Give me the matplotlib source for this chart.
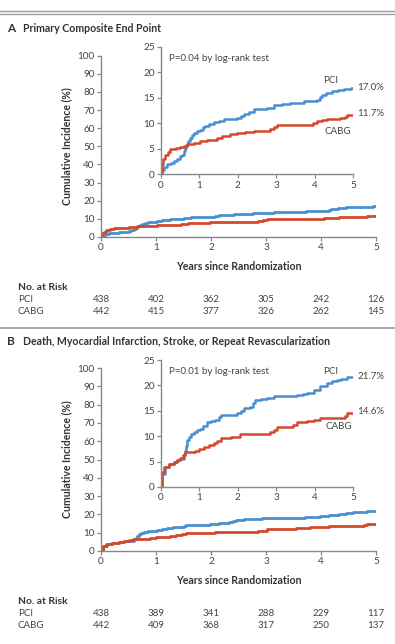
import numpy as np
import matplotlib.pyplot as plt
import matplotlib.transforms as mtransforms

# Kaplan-Meier style curves (years, %)
a_pci_t = [0, 0.03, 0.07, 0.15, 0.25, 0.33, 0.42, 0.5, 0.55, 0.6, 0.63, 0.66, 0.7,
           0.75, 0.8, 0.85, 0.93, 1.02, 1.1, 1.15, 1.25, 1.37, 1.5, 1.63, 1.98, 2.08,
           2.15, 2.3, 2.41, 2.76, 2.93, 3.15, 3.37, 3.72, 4.06, 4.15, 4.19, 4.3,
           4.45, 4.6, 4.76, 4.95]
a_pci_y = [0, 0.8, 1.5, 2.0, 2.3, 2.6, 3.0, 3.5, 3.8, 4.5, 5.1, 5.8, 6.5,
           7.2, 7.7, 8.1, 8.4, 8.7, 9.2, 9.5, 9.8, 10.2, 10.5, 10.8, 11.0, 11.5,
           11.9, 12.3, 12.7, 13.0, 13.5, 13.7, 14.0, 14.4, 14.6, 15.1, 15.6, 16.0,
           16.3, 16.5, 16.7, 17.0]
a_cabg_t = [0, 0.02, 0.05, 0.1, 0.17, 0.24, 0.38, 0.5, 0.6, 0.68, 0.85, 1.02, 1.2,
            1.46, 1.59, 1.8, 1.98, 2.2, 2.41, 2.85, 2.95, 3.02, 3.8, 3.95, 4.06, 4.2,
            4.32, 4.67, 4.78, 4.84]
a_cabg_y = [0, 2.0, 3.0, 3.8, 4.4, 4.9, 5.1, 5.3, 5.6, 5.9, 6.2, 6.5, 6.7,
            7.2, 7.6, 7.8, 8.0, 8.2, 8.4, 8.9, 9.3, 9.7, 9.7, 10.1, 10.4, 10.6,
            10.8, 11.0, 11.3, 11.7]

b_pci_t = [0, 0.03, 0.11, 0.2, 0.33, 0.42, 0.5, 0.6, 0.63, 0.66, 0.69, 0.72, 0.78,
           0.85, 0.95, 1.02, 1.1, 1.2, 1.3, 1.41, 1.5, 1.55, 1.98, 2.08, 2.15, 2.33,
           2.4, 2.46, 2.6, 2.76, 2.93, 3.54, 3.7, 3.8, 3.98, 4.15, 4.32, 4.45, 4.58,
           4.7, 4.84]
b_pci_y = [0, 2.5, 4.0, 4.5, 5.0, 5.3, 5.6, 6.3, 7.0, 8.0, 9.2, 9.9, 10.5,
           10.9, 11.2, 11.5, 12.1, 12.7, 12.9, 13.2, 13.8, 14.2, 14.5, 15.0, 15.5, 15.8,
           16.5, 17.1, 17.3, 17.6, 18.0, 18.1, 18.4, 18.6, 19.1, 19.9, 20.4, 20.8, 21.1,
           21.3, 21.7]
b_cabg_t = [0, 0.03, 0.09, 0.2, 0.33, 0.42, 0.5, 0.58, 0.63, 0.89, 1.0, 1.11, 1.25,
            1.37, 1.47, 1.55, 1.81, 2.07, 2.76, 2.85, 2.93, 3.02, 3.45, 3.54, 3.8,
            3.98, 4.15, 4.67, 4.78, 4.84, 4.95]
b_cabg_y = [0, 3.0, 4.0, 4.5, 5.0, 5.4, 5.8, 6.3, 6.8, 7.0, 7.5, 7.9, 8.3,
            8.6, 9.1, 9.6, 9.9, 10.4, 10.4, 10.8, 11.2, 11.9, 12.2, 12.7, 12.9,
            13.2, 13.6, 13.6, 14.0, 14.5, 14.6]

risk_years = [0, 1, 2, 3, 4, 5]
a_risk_pci = [438, 402, 362, 305, 242, 126]
a_risk_cabg = [442, 415, 377, 326, 262, 145]
b_risk_pci = [438, 389, 341, 288, 229, 117]
b_risk_cabg = [442, 409, 368, 317, 250, 137]

BLUE = "#4a8fcf"
RED = "#d4492c"
GRID = "#888888"
TXT = "#333333"

plt.rcParams["font.family"] = ["Lato", "DejaVu Sans"]

W, H = 395, 644
fig = plt.figure(figsize=(W / 100, H / 100), dpi=100)


def rect(l, r, top, bot):
    return [l / W, 1 - bot / H, (r - l) / W, (bot - top) / H]


def style(ax, ymax, ystep):
    for s in ("top", "right"):
        ax.spines[s].set_visible(False)
    for s in ("left", "bottom"):
        ax.spines[s].set_color(GRID)
        ax.spines[s].set_linewidth(1.0)
    ax.set_xlim(0, 5)
    ax.set_ylim(0, ymax)
    ax.set_xticks(range(6))
    ax.set_yticks(range(0, ymax + 1, ystep))
    ax.tick_params(length=3, width=0.9, color=GRID, labelsize=7.2,
                   labelcolor="#444444", pad=1.5)
    ax.patch.set_alpha(0)


def panel(letter, title, ytop, main_top, main_bot, ins_top, ins_bot,
          pci_t, pci_y, cabg_t, cabg_y, pval, pci_lab, cabg_lab, pci_pos, cabg_pos,
          risk_pci, risk_cabg, risk_y):
    fig.text(7 / W, 1 - ytop / H, letter, fontsize=8.5, fontweight="bold",
             color=TXT, va="center")
    fig.text(23 / W, 1 - ytop / H, title, fontsize=7.6, fontweight="bold",
             color=TXT, va="center")

    ax = fig.add_axes(rect(101, 376, main_top, main_bot))
    style(ax, 100, 10)
    ax.step(pci_t + [5], pci_y + [pci_y[-1]], where="post", color=BLUE, lw=2.0)
    ax.step(cabg_t + [5], cabg_y + [cabg_y[-1]], where="post", color=RED, lw=2.0)
    ax.set_xlabel("Years since Randomization", fontsize=7.6, fontweight="bold",
                  color=TXT, labelpad=6)
    ax.set_ylabel("Cumulative Incidence (%)", fontsize=7.6, fontweight="bold",
                  color=TXT, labelpad=4)

    ins = fig.add_axes(rect(161, 353, ins_top, ins_bot))
    style(ins, 25, 5)
    ins.step(pci_t + [5], pci_y + [pci_y[-1]], where="post", color=BLUE, lw=1.8)
    ins.step(cabg_t + [5], cabg_y + [cabg_y[-1]], where="post", color=RED, lw=1.8)
    ins.text(0.2, 22.7, pval, fontsize=7.0, color="#444444", va="center")
    ins.text(pci_pos[0], pci_pos[1], "PCI", fontsize=7.0, color="#444444",
             ha="center", va="center")
    ins.text(cabg_pos[0], cabg_pos[1], "CABG", fontsize=7.0, color="#444444",
             ha="center", va="center")
    ins.text(5.12, pci_y[-1], pci_lab, fontsize=7.0, color="#444444", va="center",
             clip_on=False)
    ins.text(5.12, cabg_y[-1] + 0.2, cabg_lab, fontsize=7.0, color="#444444",
             va="center", clip_on=False)

    tr = mtransforms.blended_transform_factory(ax.transData, fig.transFigure)
    fig.text(18 / W, 1 - risk_y / H, "No. at Risk", fontsize=7.4, fontweight="bold",
             color=TXT, va="center")
    fig.text(18 / W, 1 - (risk_y + 13) / H, "PCI", fontsize=7.0, color="#444444",
             va="center")
    fig.text(18 / W, 1 - (risk_y + 25) / H, "CABG", fontsize=7.0, color="#444444",
             va="center")
    for yr, n1, n2 in zip(risk_years, risk_pci, risk_cabg):
        ax.text(yr, 1 - (risk_y + 13) / H, str(n1), transform=tr, fontsize=7.0,
                color="#444444", ha="center", va="center")
        ax.text(yr, 1 - (risk_y + 25) / H, str(n2), transform=tr, fontsize=7.0,
                color="#444444", ha="center", va="center")


# header rules
for yy in (11, 14):
    fig.add_artist(plt.Line2D([0, 1], [1 - yy / H] * 2, color="#999999", lw=1.0))
fig.add_artist(plt.Line2D([0, 1], [1 - 328 / H] * 2, color="#999999", lw=1.2))

panel("A", "Primary Composite End Point", 29, 55.7, 237, 46.7, 174.3,
      a_pci_t, a_pci_y, a_cabg_t, a_cabg_y, "P=0.04 by log-rank test",
      "17.0%", "11.7%", (4.41, 18.3), (4.6, 8.3),
      a_risk_pci, a_risk_cabg, 287)

panel("B", "Death, Myocardial Infarction, Stroke, or Repeat Revascularization", 342,
      368, 551, 360, 487,
      b_pci_t, b_pci_y, b_cabg_t, b_cabg_y, "P=0.01 by log-rank test",
      "21.7%", "14.6%", (4.41, 22.7), (4.62, 11.9),
      b_risk_pci, b_risk_cabg, 601)

fig.savefig("out.png", dpi=100)
